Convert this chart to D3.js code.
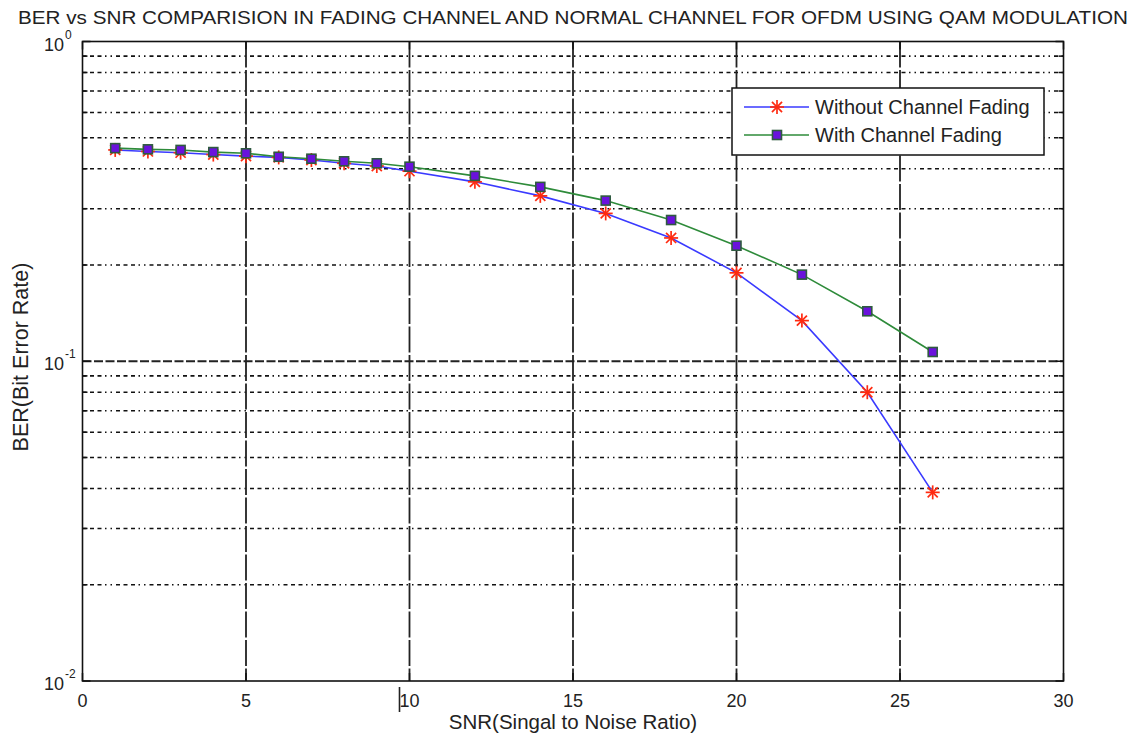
<!DOCTYPE html>
<html>
<head>
<meta charset="utf-8">
<script src="https://cdn.jsdelivr.net/npm/d3@7"></script>
<style>
  html, body { margin: 0; padding: 0; background: #fff; }
  svg { display: block; font-family: "Liberation Sans", Arial, sans-serif; }
</style>
</head>
<body>
<svg id="chart" width="1135" height="737"></svg>
<script>
// SNR points (dB)
const snr = [1, 2, 3, 4, 5, 6, 7, 8, 9, 10, 12, 14, 16, 18, 20, 22, 24, 26];
// BER without channel fading
const berNoFading = [0.458, 0.453, 0.449, 0.443, 0.438, 0.434, 0.426, 0.416, 0.408, 0.393,
                     0.364, 0.329, 0.290, 0.243, 0.189, 0.134, 0.080, 0.0389];
// BER with channel fading
const berFading = [0.464, 0.460, 0.458, 0.451, 0.447, 0.436, 0.430, 0.422, 0.416, 0.406,
                   0.380, 0.351, 0.318, 0.2765, 0.2298, 0.1866, 0.1433, 0.1069];

const xTicks = [0, 5, 10, 15, 20, 25, 30];
const yDecades = [-2, -1, 0];
const seriesNames = ["Without Channel Fading", "With Channel Fading"];
const titleText = "BER vs SNR COMPARISION IN FADING CHANNEL AND NORMAL CHANNEL FOR OFDM USING QAM MODULATION";
const xLabel = "SNR(Singal to Noise Ratio)";
const yLabel = "BER(Bit Error Rate)";

const svg = d3.select("#chart");
const L = 82.5, R = 1063.5, T = 41.5, B = 681;

const x = d3.scaleLinear().domain([0, 30]).range([L, R]);
const y = d3.scaleLog().domain([0.01, 1]).range([B, T]);

// minor decade values 2..9 x 10^k
const minorVals = [];
[-2, -1].forEach(k => { for (let m = 2; m <= 9; m++) minorVals.push(m * Math.pow(10, k)); });

const grid = svg.append("g");
// minor horizontal grid (dotted)
grid.selectAll("line.minor").data(minorVals).join("line")
  .attr("x1", L).attr("x2", R)
  .attr("y1", d => y(d)).attr("y2", d => y(d))
  .attr("stroke", "#111").attr("stroke-width", 1.6)
  .attr("stroke-dasharray", "4,3.5,4,3.5,4,3.5,1.5,4,1.5,4");
// major horizontal grid
grid.append("line")
  .attr("x1", L).attr("x2", R)
  .attr("y1", y(0.1)).attr("y2", y(0.1))
  .attr("stroke", "#222").attr("stroke-width", 1.8)
  .attr("stroke-dasharray", "9,2.5");
// major vertical grid
grid.selectAll("line.vmaj").data(xTicks.slice(1, -1)).join("line")
  .attr("x1", d => x(d)).attr("x2", d => x(d))
  .attr("y1", T).attr("y2", B)
  .attr("stroke", "#222").attr("stroke-width", 1.8)
  .attr("stroke-dasharray", "26,2.5");

// axes box
svg.append("rect")
  .attr("x", L).attr("y", T).attr("width", R - L).attr("height", B - T)
  .attr("fill", "none").attr("stroke", "#111").attr("stroke-width", 1.6);

// inward ticks
const tk = svg.append("g").attr("stroke", "#111").attr("stroke-width", 1.5);
xTicks.forEach(v => {
  tk.append("line").attr("x1", x(v)).attr("x2", x(v)).attr("y1", B).attr("y2", B - 8);
  tk.append("line").attr("x1", x(v)).attr("x2", x(v)).attr("y1", T).attr("y2", T + 8);
});
minorVals.forEach(v => {
  tk.append("line").attr("x1", L).attr("x2", L + 5).attr("y1", y(v)).attr("y2", y(v));
  tk.append("line").attr("x1", R).attr("x2", R - 5).attr("y1", y(v)).attr("y2", y(v));
});
yDecades.forEach(k => {
  const v = Math.pow(10, k);
  tk.append("line").attr("x1", L).attr("x2", L + 8).attr("y1", y(v)).attr("y2", y(v));
  tk.append("line").attr("x1", R).attr("x2", R - 8).attr("y1", y(v)).attr("y2", y(v));
});

// x tick labels
svg.append("g").selectAll("text").data(xTicks).join("text")
  .attr("x", d => x(d)).attr("y", 707)
  .attr("text-anchor", "middle").attr("font-size", 18).attr("fill", "#222")
  .text(d => d);
// short mark beside the 10 label
svg.append("line").attr("x1", 399.5).attr("x2", 399.5).attr("y1", 687).attr("y2", 712)
  .attr("stroke", "#222").attr("stroke-width", 1.6);

// y tick labels 10^k
yDecades.forEach(k => {
  const yy = y(Math.pow(10, k));
  svg.append("text").attr("x", 64).attr("y", yy + 9)
    .attr("text-anchor", "end").attr("font-size", 18).attr("fill", "#222").text("10");
  svg.append("text").attr("x", 65).attr("y", yy - 3)
    .attr("font-size", 12).attr("fill", "#222").text(k);
});

// axis labels
svg.append("text").attr("x", 573).attr("y", 729)
  .attr("text-anchor", "middle").attr("font-size", 20.5).attr("fill", "#222").text(xLabel);
svg.append("text").attr("transform", "translate(28,357) rotate(-90)")
  .attr("text-anchor", "middle").attr("font-size", 21.5).attr("fill", "#222").text(yLabel);

// title
svg.append("text").attr("x", 18).attr("y", 24)
  .attr("font-size", 19).attr("fill", "#222")
  .attr("textLength", 1110).attr("lengthAdjust", "spacingAndGlyphs")
  .text(titleText);

// series
const line = d3.line().x(d => x(d[0])).y(d => y(d[1]));
const dataNo = snr.map((s, i) => [s, berNoFading[i]]);
const dataF = snr.map((s, i) => [s, berFading[i]]);

const blue = "#3a3aff", green = "#2e8b3a", red = "#ff2a10", purple = "#6a12dc", sqStroke = "#2f5a40";

function star(g, cx, cy, r) {
  const s = g.append("g").attr("stroke", red).attr("stroke-width", 1.7);
  const d = r * 0.72;
  s.append("line").attr("x1", cx - r).attr("x2", cx + r).attr("y1", cy).attr("y2", cy);
  s.append("line").attr("x1", cx).attr("x2", cx).attr("y1", cy - r).attr("y2", cy + r);
  s.append("line").attr("x1", cx - d).attr("x2", cx + d).attr("y1", cy - d).attr("y2", cy + d);
  s.append("line").attr("x1", cx - d).attr("x2", cx + d).attr("y1", cy + d).attr("y2", cy - d);
}
function square(g, cx, cy, h) {
  g.append("rect").attr("x", cx - h).attr("y", cy - h).attr("width", 2 * h).attr("height", 2 * h)
    .attr("fill", purple).attr("stroke", sqStroke).attr("stroke-width", 1.6);
}

const s1 = svg.append("g");
s1.append("path").datum(dataNo).attr("d", line)
  .attr("fill", "none").attr("stroke", blue).attr("stroke-width", 1.6);
dataNo.forEach(d => star(s1, x(d[0]), y(d[1]), 7));

const s2 = svg.append("g");
s2.append("path").datum(dataF).attr("d", line)
  .attr("fill", "none").attr("stroke", green).attr("stroke-width", 1.6);
dataF.forEach(d => square(s2, x(d[0]), y(d[1]), 4.5));

// legend
const lg = svg.append("g");
lg.append("rect").attr("x", 732).attr("y", 88).attr("width", 312).attr("height", 67)
  .attr("fill", "#fff").attr("stroke", "#111").attr("stroke-width", 1.5);
const rows = [107, 135];
lg.append("line").attr("x1", 744).attr("x2", 809).attr("y1", rows[0]).attr("y2", rows[0])
  .attr("stroke", blue).attr("stroke-width", 1.6);
star(lg, 777, rows[0], 7);
lg.append("line").attr("x1", 744).attr("x2", 809).attr("y1", rows[1]).attr("y2", rows[1])
  .attr("stroke", green).attr("stroke-width", 1.6);
square(lg, 777, rows[1], 4.5);
seriesNames.forEach((n, i) => {
  lg.append("text").attr("x", 815).attr("y", rows[i] + 7)
    .attr("font-size", 20).attr("fill", "#222").text(n);
});
</script>
</body>
</html>
